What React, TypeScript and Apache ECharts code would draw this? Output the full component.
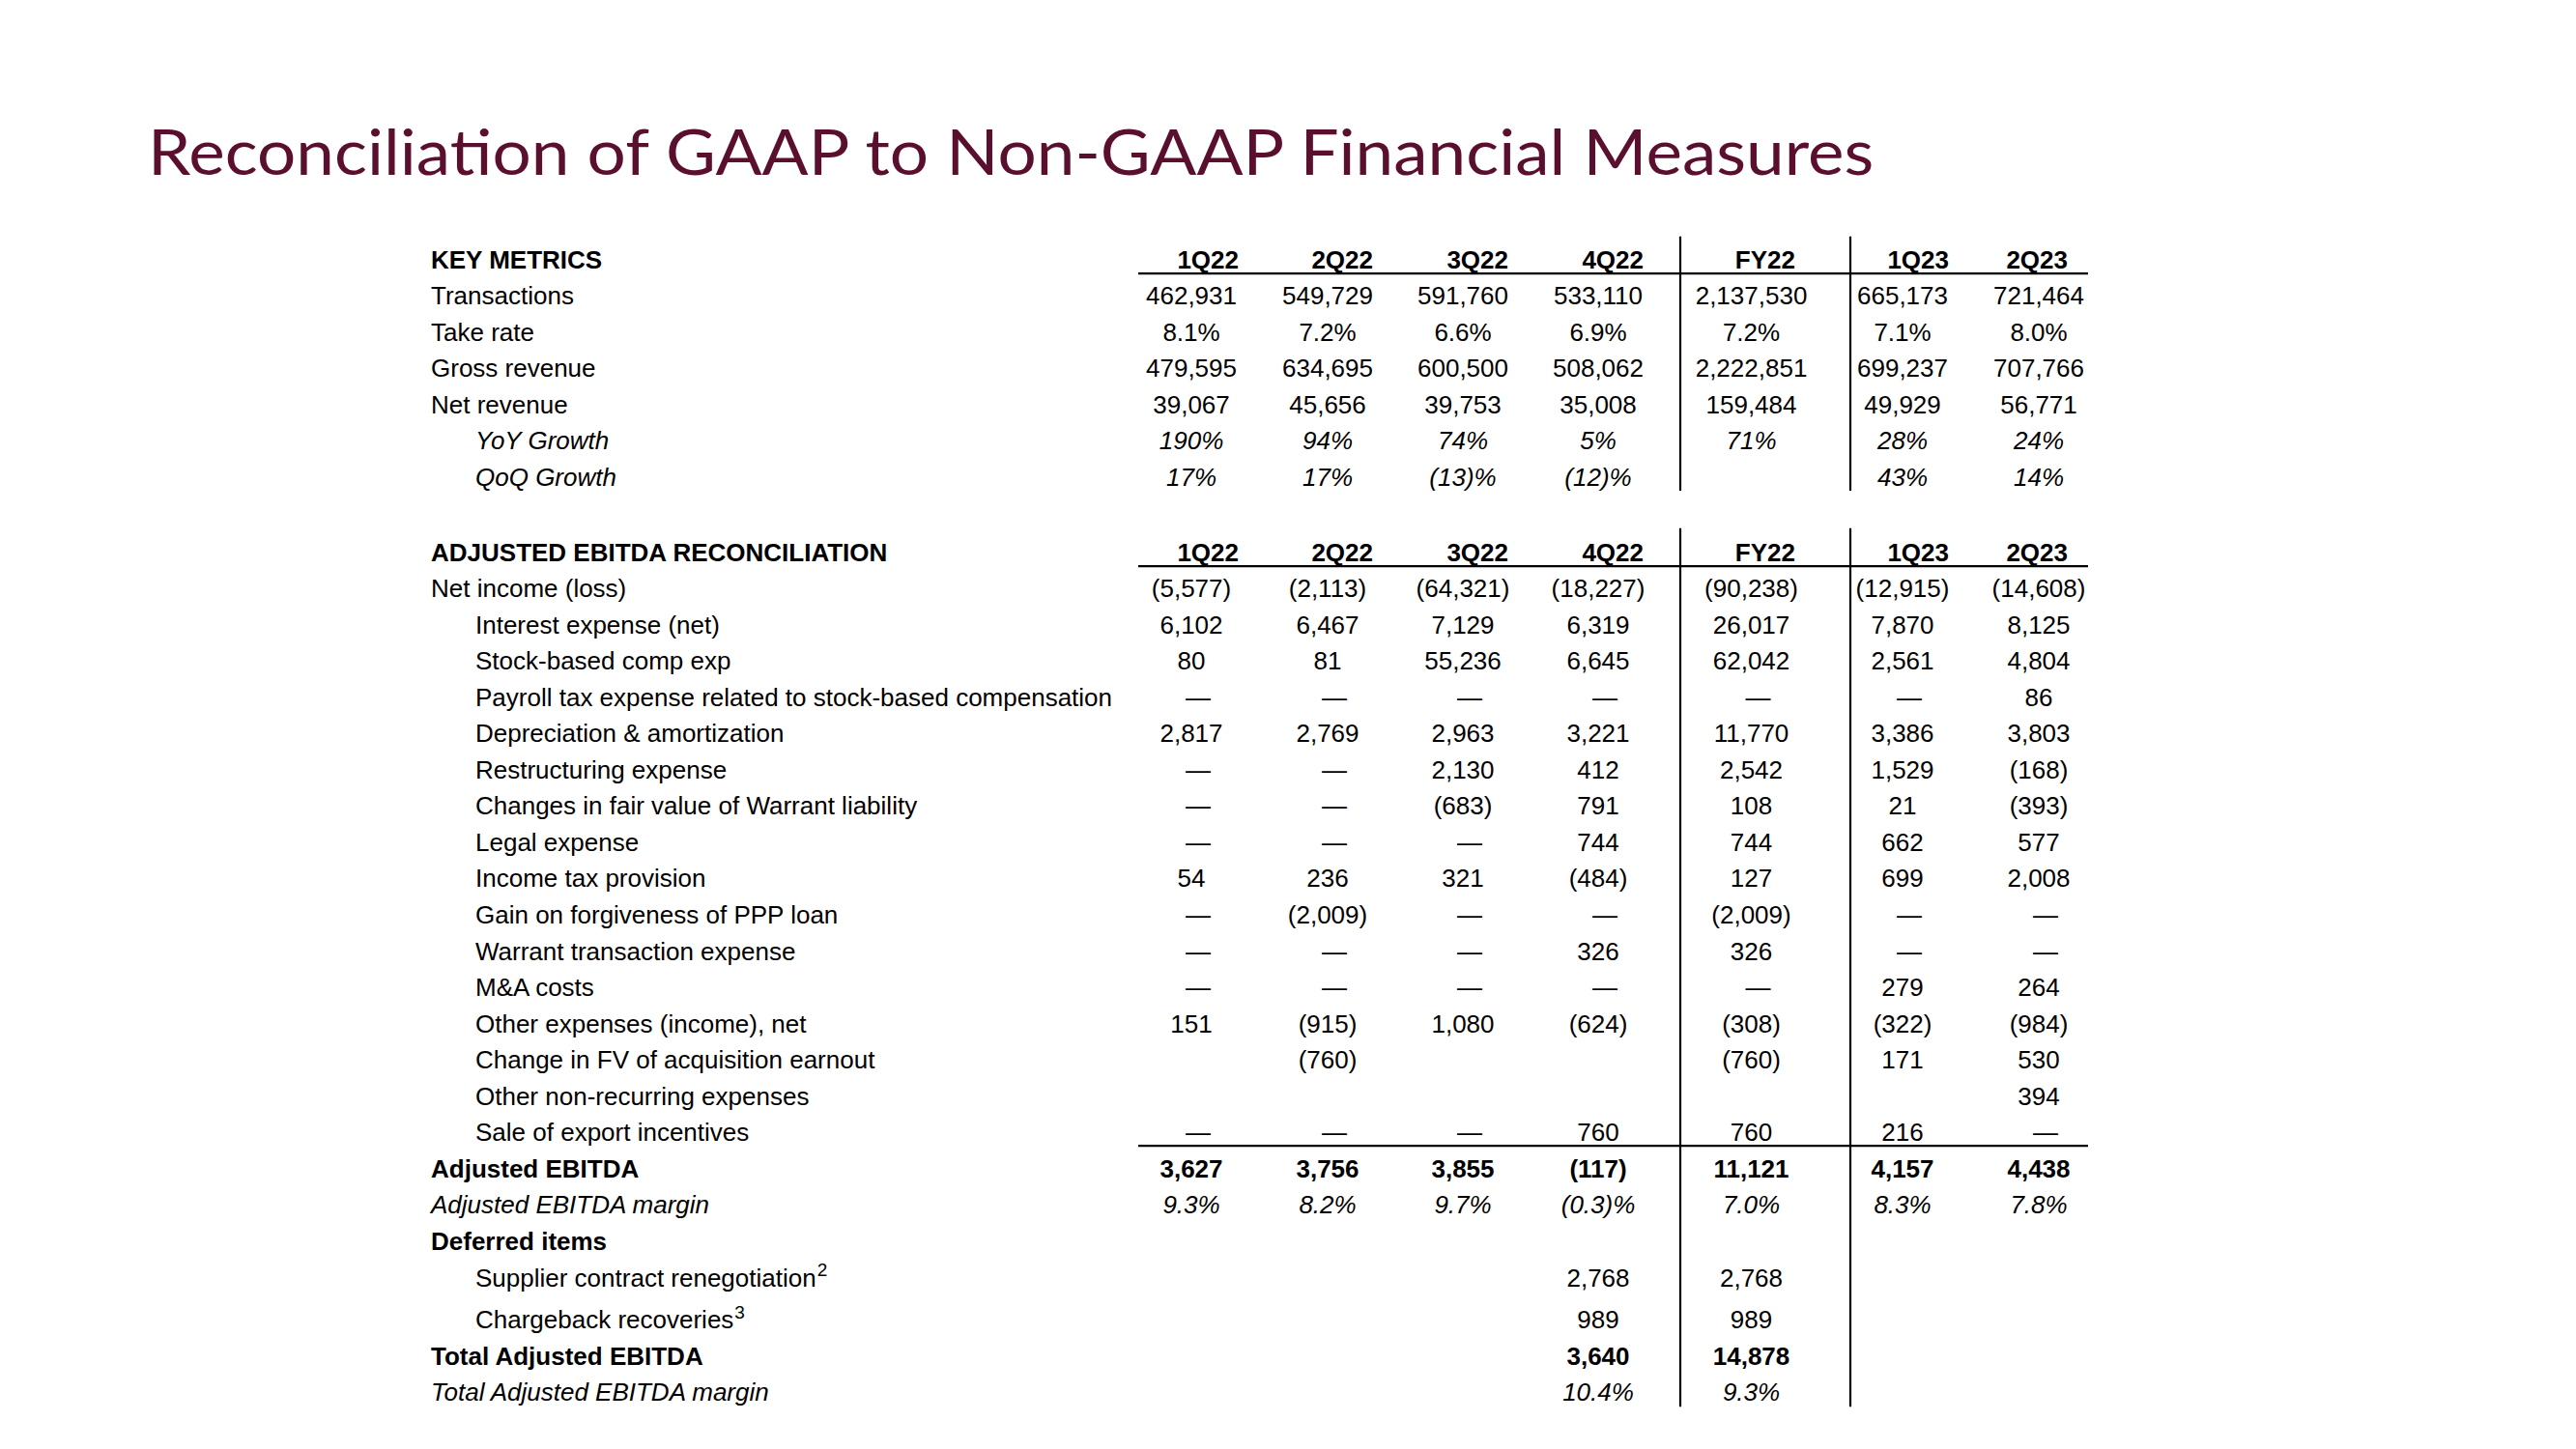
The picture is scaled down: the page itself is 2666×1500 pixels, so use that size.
import React, { useEffect, useRef } from "react";
import * as echarts from "echarts";

// ---------- DATA ----------
const TITLE = "Reconciliation of GAAP to Non-GAAP Financial Measures";
const columns = ["1Q22", "2Q22", "3Q22", "4Q22", "FY22", "1Q23", "2Q23"];
const keyMetricsHeader = "KEY METRICS";
const ebitdaHeader = "ADJUSTED EBITDA RECONCILIATION";

// Key metrics (null = blank cell)
const transactions = [462931, 549729, 591760, 533110, 2137530, 665173, 721464];
const takeRate = [8.1, 7.2, 6.6, 6.9, 7.2, 7.1, 8.0];
const grossRevenue = [479595, 634695, 600500, 508062, 2222851, 699237, 707766];
const netRevenue = [39067, 45656, 39753, 35008, 159484, 49929, 56771];
const yoyGrowth = [190, 94, 74, 5, 71, 28, 24];
const qoqGrowth = [17, 17, -13, -12, null, 43, 14];

// Adjusted EBITDA reconciliation (0 = "—", null = blank)
const netIncome = [-5577, -2113, -64321, -18227, -90238, -12915, -14608];
const interestExpense = [6102, 6467, 7129, 6319, 26017, 7870, 8125];
const stockComp = [80, 81, 55236, 6645, 62042, 2561, 4804];
const payrollTax = [0, 0, 0, 0, 0, 0, 86];
const depreciation = [2817, 2769, 2963, 3221, 11770, 3386, 3803];
const restructuring = [0, 0, 2130, 412, 2542, 1529, -168];
const warrantFairValue = [0, 0, -683, 791, 108, 21, -393];
const legalExpense = [0, 0, 0, 744, 744, 662, 577];
const incomeTax = [54, 236, 321, -484, 127, 699, 2008];
const pppGain = [0, -2009, 0, 0, -2009, 0, 0];
const warrantTransaction = [0, 0, 0, 326, 326, 0, 0];
const maCosts = [0, 0, 0, 0, 0, 279, 264];
const otherExpenses = [151, -915, 1080, -624, -308, -322, -984];
const earnoutChange = [null, -760, null, null, -760, 171, 530];
const otherNonRecurring = [null, null, null, null, null, null, 394];
const exportIncentives = [0, 0, 0, 760, 760, 216, 0];
const adjustedEbitda = [3627, 3756, 3855, -117, 11121, 4157, 4438];
const adjustedEbitdaMargin = [9.3, 8.2, 9.7, -0.3, 7.0, 8.3, 7.8];
const supplierRenegotiation = [null, null, null, 2768, 2768, null, null];
const chargebackRecoveries = [null, null, null, 989, 989, null, null];
const totalAdjustedEbitda = [null, null, null, 3640, 14878, null, null];
const totalAdjustedEbitdaMargin = [null, null, null, 10.4, 9.3, null, null];

// Table structure
type Row = {
  label: string;
  sup?: string;
  values?: (number | null)[];
  fmt?: "int" | "pct0" | "pct1";
  kind?: "header" | "bold" | "italic" | "normal";
  indent?: boolean;
  gapBefore?: number;
  rule?: boolean;
};

const rows: Row[] = [
  { label: keyMetricsHeader, kind: "header" },
  { label: "Transactions", values: transactions, fmt: "int" },
  { label: "Take rate", values: takeRate, fmt: "pct1" },
  { label: "Gross revenue", values: grossRevenue, fmt: "int" },
  { label: "Net revenue", values: netRevenue, fmt: "int" },
  { label: "YoY Growth", values: yoyGrowth, fmt: "pct0", kind: "italic", indent: true },
  { label: "QoQ Growth", values: qoqGrowth, fmt: "pct0", kind: "italic", indent: true },
  { label: ebitdaHeader, kind: "header", gapBefore: 2.07 },
  { label: "Net income (loss)", values: netIncome, fmt: "int" },
  { label: "Interest expense (net)", values: interestExpense, fmt: "int", indent: true },
  { label: "Stock-based comp exp", values: stockComp, fmt: "int", indent: true },
  { label: "Payroll tax expense related to stock-based compensation", values: payrollTax, fmt: "int", indent: true },
  { label: "Depreciation & amortization", values: depreciation, fmt: "int", indent: true },
  { label: "Restructuring expense", values: restructuring, fmt: "int", indent: true },
  { label: "Changes in fair value of Warrant liability", values: warrantFairValue, fmt: "int", indent: true },
  { label: "Legal expense", values: legalExpense, fmt: "int", indent: true },
  { label: "Income tax provision", values: incomeTax, fmt: "int", indent: true },
  { label: "Gain on forgiveness of PPP loan", values: pppGain, fmt: "int", indent: true },
  { label: "Warrant transaction expense", values: warrantTransaction, fmt: "int", indent: true },
  { label: "M&A costs", values: maCosts, fmt: "int", indent: true },
  { label: "Other expenses (income), net", values: otherExpenses, fmt: "int", indent: true },
  { label: "Change in FV of acquisition earnout", values: earnoutChange, fmt: "int", indent: true },
  { label: "Other non-recurring expenses", values: otherNonRecurring, fmt: "int", indent: true },
  { label: "Sale of export incentives", values: exportIncentives, fmt: "int", indent: true, rule: true },
  { label: "Adjusted EBITDA", values: adjustedEbitda, fmt: "int", kind: "bold" },
  { label: "Adjusted EBITDA margin", values: adjustedEbitdaMargin, fmt: "pct1", kind: "italic" },
  { label: "Deferred items", kind: "bold" },
  { label: "Supplier contract renegotiation", sup: "2", values: supplierRenegotiation, fmt: "int", indent: true },
  { label: "Chargeback recoveries", sup: "3", values: chargebackRecoveries, fmt: "int", indent: true, gapBefore: 1.16 },
  { label: "Total Adjusted EBITDA", values: totalAdjustedEbitda, fmt: "int", kind: "bold" },
  { label: "Total Adjusted EBITDA margin", values: totalAdjustedEbitdaMargin, fmt: "pct1", kind: "italic" },
];

// ---------- LAYOUT ----------
const W = 2666;
const H = 1500;
const FONT = '"Liberation Sans", Arial, sans-serif';
const FS = 26;
const LABEL_X = 446;
const INDENT_X = 492;
const COL_X = [1233, 1374, 1514, 1654, 1812.5, 1969, 2110];
const HEADER_RIGHT = [1282, 1421, 1561, 1701, 1858, 2017, 2140];
const DASH_SHIFT = 7;
const ROW_H = 37.55;
const FIRST_ROW_Y = 268.5;
const Y_MIN = -1;
const Y_MAX = 32;
const RULE_X = [1178, 2161];
const V_RULE_X = [1739, 1915];
const RULE_OFFSET = 0.39;

function fmtValue(v: number | null, fmt?: string): string {
  if (v === null || v === undefined) return "";
  if (fmt === "int") {
    if (v === 0) return "\u2014";
    const s = Math.abs(v).toLocaleString("en-US");
    return v < 0 ? `(${s})` : s;
  }
  const d = fmt === "pct1" ? 1 : 0;
  const s = Math.abs(v).toFixed(d);
  return v < 0 ? `(${s})%` : `${s}%`;
}

function fontFor(kind?: string) {
  if (kind === "header" || kind === "bold") return `bold ${FS}px ${FONT}`;
  if (kind === "italic") return `italic ${FS}px ${FONT}`;
  return `${FS}px ${FONT}`;
}

type Cell = { x: number; y: number; text: string; align: string; font: string; sup?: string };

function buildTable() {
  const cells: Cell[] = [];
  const segs: number[][] = [];
  const pos: number[] = [];
  let p = 0;
  rows.forEach((r, i) => {
    if (i > 0) p += r.gapBefore ?? 1;
    pos.push(p);
  });
  rows.forEach((r, i) => {
    const y = pos[i];
    const font = fontFor(r.kind);
    cells.push({ x: r.indent ? INDENT_X : LABEL_X, y, text: r.label, align: "left", font, sup: r.sup });
    if (r.kind === "header") {
      columns.forEach((c, j) => {
        cells.push({ x: HEADER_RIGHT[j], y, text: c, align: "right", font });
      });
      segs.push([RULE_X[0], y + RULE_OFFSET, RULE_X[1], y + RULE_OFFSET]);
    }
    if (r.values) {
      r.values.forEach((v, j) => {
        const t = fmtValue(v, r.fmt);
        if (!t) return;
        const isDash = t === "\u2014";
        cells.push({ x: COL_X[j] + (isDash ? DASH_SHIFT : 0), y, text: t, align: "center", font });
      });
    }
    if (r.rule) segs.push([RULE_X[0], y + 0.37, RULE_X[1], y + 0.37]);
  });
  // vertical separators: key-metrics block and reconciliation block
  const kmTop = pos[0] - 0.63;
  const kmBottom = pos[6] + 0.38;
  const aeIdx = rows.findIndex((r) => r.label === ebitdaHeader);
  const aeTop = pos[aeIdx] - 0.66;
  const aeBottom = pos[rows.length - 1] + 0.4;
  V_RULE_X.forEach((x) => {
    segs.push([x, kmTop, x, kmBottom]);
    segs.push([x, aeTop, x, aeBottom]);
  });
  return { cells, segs };
}

export default function App() {
  const ref = useRef<HTMLDivElement>(null);
  useEffect(() => {
    document.body.style.margin = "0";
    if (!ref.current) return;
    const chart = echarts.init(ref.current, null, { renderer: "svg" });
    const { cells, segs } = buildTable();
    const gridTop = FIRST_ROW_Y + Y_MIN * ROW_H;
    chart.setOption({
      animation: false,
      backgroundColor: "#ffffff",
      grid: { left: 0, right: 0, top: gridTop, height: (Y_MAX - Y_MIN) * ROW_H },
      xAxis: { type: "value", min: 0, max: W, show: false },
      yAxis: { type: "value", min: Y_MIN, max: Y_MAX, inverse: true, show: false },
      graphic: [
        {
          type: "text",
          x: 153,
          y: 155,
          scaleX: 1.077,
          style: {
            text: TITLE,
            font: `66px Lato, "Open Sans", sans-serif`,
            fill: "#5a0f2e",
            verticalAlign: "middle",
            align: "left",
          },
        },
      ],
      series: [
        {
          type: "custom",
          clip: false,
          silent: true,
          data: segs,
          encode: { x: [0, 2], y: [1, 3] },
          renderItem: (params: any, api: any) => {
            const a = api.coord([api.value(0), api.value(1)]);
            const b = api.coord([api.value(2), api.value(3)]);
            return {
              type: "line",
              shape: { x1: a[0], y1: a[1], x2: b[0], y2: b[1] },
              style: { stroke: "#000", lineWidth: 2.2 },
            };
          },
        },
        {
          type: "custom",
          clip: false,
          silent: true,
          data: cells.map((c) => [c.x, c.y]),
          encode: { x: 0, y: 1 },
          renderItem: (params: any, api: any) => {
            const c = cells[params.dataIndex];
            const pt = api.coord([api.value(0), api.value(1)]);
            const style: any = {
              text: c.sup ? `{m|${c.text}}{s|${c.sup}}` : c.text,
              font: c.font,
              fill: "#000",
              align: c.align,
              verticalAlign: "middle",
            };
            if (c.sup) {
              style.rich = {
                m: { font: c.font, fill: "#000" },
                s: { fontFamily: FONT, fontSize: 19, fill: "#000", padding: [0, 0, 16, 1] },
              };
            }
            return { type: "text", x: pt[0], y: pt[1], style };
          },
        },
      ],
    });
    return () => chart.dispose();
  }, []);
  return <div ref={ref} style={{ width: W, height: H }} />;
}
